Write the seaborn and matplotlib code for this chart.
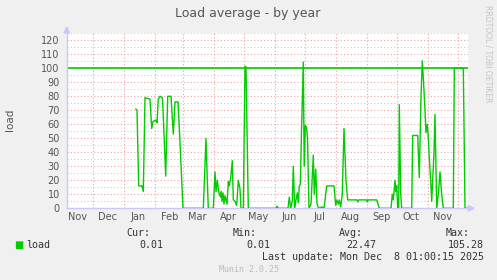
import numpy as np
import pandas as pd
import matplotlib
matplotlib.use("Agg")
import matplotlib.pyplot as plt
import matplotlib.dates as mdates
import seaborn as sns

# ---- data ----
days_since_jan1 = [11.4, 12.7, 14.4, 17.7, 19.0, 20.7, 25.7, 27.4, 28.7, 31.7, 32.7, 34.0, 35.7, 38.2,
                   41.4, 43.4, 46.7, 49.0, 50.7, 53.7, 55.7, 58.7,
                   79.0, 81.7, 83.0, 84.0, 89.0, 90.7, 91.7, 93.0, 94.0, 95.0, 96.4, 97.0, 97.7, 98.7,
                   99.7, 100.7, 102.7, 104.0, 105.0, 106.4, 108.0, 109.0, 110.7, 112.4, 114.0, 115.7,
                   116.7, 119.0, 120.7, 121.7, 124.0,
                   151.7, 152.7, 154.0, 163.7, 165.0, 166.4, 168.0, 169.0, 170.4, 171.7, 173.0, 174.0,
                   175.0, 176.0, 177.2, 179.0, 179.9, 181.0, 182.2, 183.2, 184.7, 186.7, 189.0, 190.0,
                   191.4, 192.7, 194.4, 197.7, 199.7,
                   202.4, 209.7, 211.4, 212.4, 214.0, 215.0, 216.4, 218.0, 219.7, 221.7, 223.4, 232.7,
                   233.4, 234.4, 242.4, 243.0, 243.7, 252.4, 255.0,
                   266.7, 268.0, 269.0, 270.7, 271.7, 272.4, 273.4, 274.4, 275.0, 276.4, 277.4,
                   287.4, 288.4, 293.4, 295.0, 296.7, 298.0, 299.4, 300.7, 301.7, 303.0, 304.0, 305.0,
                   306.4, 307.4, 308.4, 309.7, 310.7, 311.7, 312.4, 314.0, 315.7, 317.4, 319.0,
                   329.0, 330.0, 339.0, 340.7, 343.7]
load_values = [71, 70, 16, 16, 12, 79, 78, 57, 62, 63, 61, 78, 80, 79,
               23, 80, 80, 53, 76, 76, 47, 0,
               0, 50, 20, 0, 0, 26, 12, 20, 14, 10, 8, 12, 5, 11,
               3, 9, 3, 19, 16, 22, 34, 6, 5, 2, 20, 14,
               0, 0, 101.5, 101, 0,
               0, 1.5, 0, 0, 8, 0, 5, 30, 0, 6, 11, 4,
               16, 17, 55, 104.5, 30, 59, 58, 50, 0, 3, 38, 10,
               28, 3, 0, 1, 0,
               16, 16, 2, 6, 3, 6, 1, 10, 57, 20, 6, 6,
               4.5, 6, 6, 4.5, 6, 6, 0,
               0, 10, 6, 20, 12, 16, 0, 0, 74, 10, 0,
               0, 52, 52, 22, 80, 105.3, 88, 70, 54, 60, 50, 36,
               20, 5, 20, 40, 67, 30, 0, 10, 26, 10, 0,
               0, 100, 100, 0, 0]
threshold = 100
month_labels = ["Nov", "Dec", "Jan", "Feb", "Mar", "Apr", "May", "Jun", "Jul", "Aug", "Sep", "Oct", "Nov"]
legend_name = "load"
stats_cur, stats_min, stats_avg, stats_max = "0.01", "0.01", "22.47", "105.28"
last_update = "Last update: Mon Dec  8 01:00:15 2025"

jan1 = pd.Timestamp("2025-01-01")
df = pd.DataFrame({
    "date": jan1 + pd.to_timedelta(np.array(days_since_jan1), unit="D"),
    "load": load_values,
})

sns.set_theme(style="white")
plt.rcParams["font.family"] = ["DejaVu Sans"]

fig = plt.figure(figsize=(4.97, 2.80), dpi=100, facecolor="#F0F0F0")
ax = fig.add_axes([66.7 / 497, 1 - 208.3 / 280, (468 - 66.7) / 497, (208.3 - 33.3) / 280])
ax.set_facecolor("white")

xmin = jan1 - pd.Timedelta(days=57.6)
xmax = jan1 + pd.Timedelta(days=343.7)
ax.set_xlim(xmin, xmax)
ax.set_ylim(0, 125)

# grids
for v in np.arange(5, 126, 10):
    ax.axhline(v, color="#D0D0D0", lw=0.8, ls=(0, (1, 2)), zorder=0)
for v in np.arange(10, 121, 10):
    ax.axhline(v, color="#F2A0A0", lw=0.8, ls=(0, (1, 2)), zorder=0)
month_starts = pd.date_range("2024-12-01", "2025-12-01", freq="MS")
for m in month_starts:
    ax.axvline(m, color="#F2A0A0", lw=0.8, ls=(0, (1, 2)), zorder=0)

ax.axhline(threshold, color="#00CC00", lw=1.2, zorder=2)
sns.lineplot(data=df, x="date", y="load", color="#00CC00", lw=1.0, ax=ax, zorder=3)

# ticks
ax.set_yticks(np.arange(0, 121, 10))
ax.tick_params(axis="y", length=3, width=0.8, color="#F2A0A0", labelsize=7, labelcolor="#555555", pad=2)
mid_months = pd.date_range("2024-11-01", "2025-11-01", freq="MS") + pd.Timedelta(days=14)
ax.set_xticks(month_starts)
ax.set_xticklabels([])
ax.set_xticks(mid_months, minor=True)
ax.set_xticklabels(month_labels, minor=True)
ax.tick_params(axis="x", which="major", length=3, width=0.8, color="#F2A0A0")
ax.tick_params(axis="x", which="minor", length=0, labelsize=7, labelcolor="#555555", pad=3)
ax.set_xlabel("")
ax.set_ylabel("")

for s in ["top", "right"]:
    ax.spines[s].set_visible(False)
for s in ["left", "bottom"]:
    ax.spines[s].set_color("#C8C8FF")
    ax.spines[s].set_linewidth(1.0)

# axis arrows
fig.patches.append(plt.Polygon([[468 / 497, 1 - 205.5 / 280], [474 / 497, 1 - 208.3 / 280], [468 / 497, 1 - 211 / 280]],
                               closed=True, transform=fig.transFigure, color="#C8C8FF", zorder=5))
fig.patches.append(plt.Polygon([[64 / 497, 1 - 33 / 280], [66.7 / 497, 1 - 27 / 280], [69.4 / 497, 1 - 33 / 280]],
                               closed=True, transform=fig.transFigure, color="#C8C8FF", zorder=5))

# texts
fig.text(248 / 497, 1 - 13 / 280, "Load average - by year", ha="center", va="center", fontsize=9, color="#555555")
fig.text(10 / 497, 1 - 120 / 280, "load", rotation=90, ha="center", va="center", fontsize=7.5, color="#555555")
fig.text(488 / 497, 1 - 5 / 280, "RRDTOOL / TOBI OETIKER", rotation=-90, ha="center", va="top",
         fontsize=5.5, color="#C4C4C4")

mono = "DejaVu Sans Mono"
fs = 7.2
fig.text(14 / 497, 1 - 245 / 280, "■", ha="left", va="center", fontsize=7, color="#00CC00", family="DejaVu Sans")
fig.text(26 / 497, 1 - 245 / 280, legend_name, ha="left", va="center", fontsize=fs, color="#333333", family=mono)
for xr, lab in [(150, "Cur:"), (256.5, "Min:"), (362.5, "Avg:"), (469.5, "Max:")]:
    fig.text(xr / 497, 1 - 233.5 / 280, lab, ha="right", va="center", fontsize=fs, color="#333333", family=mono)
for xr, val in [(163, stats_cur), (270, stats_min), (376.5, stats_avg), (483.5, stats_max)]:
    fig.text(xr / 497, 1 - 245.5 / 280, val, ha="right", va="center", fontsize=fs, color="#333333", family=mono)
fig.text(483.5 / 497, 1 - 257.5 / 280, last_update, ha="right", va="center", fontsize=fs, color="#333333", family=mono)
fig.text(249 / 497, 1 - 269.5 / 280, "Munin 2.0.25", ha="center", va="center", fontsize=6, color="#BBBBBB", family=mono)

fig.savefig("out.png", dpi=100, facecolor=fig.get_facecolor())
